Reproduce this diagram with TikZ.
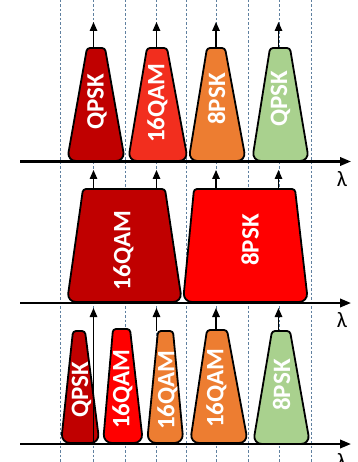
\documentclass[tikz,border=0pt]{standalone}
\usepackage{fontspec}
\newfontfamily\labelfont{Carlito}
\usetikzlibrary{arrows.meta}

\definecolor{darkred}{RGB}{192,0,0}
\definecolor{brightred}{RGB}{255,0,0}
\definecolor{tomato}{RGB}{242,46,30}
\definecolor{orange}{RGB}{237,125,49}
\definecolor{lightgreen}{RGB}{169,209,142}
\definecolor{gridblue}{RGB}{95,128,160}

% pulse: base y, bottom left, bottom right, top left, top right, top y, fill
\newcommand{\pulse}[7]{%
  \draw[pulse, fill=#7] ({(#2+#3)/2},#1) [rounded corners=9pt] -- (#3,#1)
    [rounded corners=3pt] -- (#5,#6) -- (#4,#6)
    [rounded corners=9pt] -- (#2,#1) -- cycle;}

\begin{document}
\begin{tikzpicture}[x=1pt, y=-1pt,
    pulse/.style={line width=1.8pt, line join=round},
    carrier/.style={line width=1.5pt, -{Triangle[length=9pt, width=7.5pt]}},
    axis/.style={line width=2.2pt, -{Triangle[length=11pt, width=8.5pt]}},
    grid/.style={gridblue, line width=0.6pt, dash pattern=on 2.5pt off 2pt},
    modlabel/.style={text=white, rotate=90, font=\labelfont\bfseries\fontsize{25}{25}\selectfont},
    lambda/.style={font=\labelfont\fontsize{22}{22}\selectfont}]
    \useasboundingbox (0,0) rectangle (357,462);

    % Grille (bords et centres des canaux)
    \foreach \x in {60, 93.5, 125.5, 156.5, 186, 216, 248, 279, 311.5}
        \draw[grid] (\x,0) -- (\x,462);

    % Ligne 1 : quatre porteuses
    \pulse{161}{67}{125}{87}{105}{48}{darkred}
    \pulse{161}{128}{188}{147}{167}{48}{tomato}
    \pulse{161}{188.5}{246}{207}{225}{48}{orange}
    \pulse{161}{252}{309}{270}{290}{48}{lightgreen}
    \node[modlabel] (qpskA) at (97,102) {QPSK};
    \node[modlabel] (qamA) at (157.5,103) {16QAM};
    \node[modlabel] (pskA) at (216.5,99) {8PSK};
    \node[modlabel] (qpskB) at (280.5,99) {QPSK};

    % Ligne 2 : deux super-canaux
    \pulse{302}{67}{182}{83}{165}{189}{darkred}
    \pulse{302}{183}{308}{194}{295}{189}{brightred}
    \node[modlabel] (qamB) at (123.5,250.5) {16QAM};
    \node[modlabel] (pskB) at (250,240) {8PSK};

    % Ligne 3 : cinq porteuses
    \pulse{443}{61}{99.5}{73}{85}{331}{darkred}
    \pulse{443}{103}{143}{113}{130}{329}{brightred}
    \pulse{443}{147}{183.5}{158}{173}{331}{orange}
    \pulse{443}{190}{248}{207}{227}{330}{orange}
    \pulse{444}{253}{310}{272}{290}{331}{lightgreen}
    \node[modlabel] (qpskC) at (81.5,390) {QPSK};
    \node[modlabel] (qamC) at (122.5,389) {16QAM};
    \node[modlabel] (qamD) at (167.5,390) {16QAM};
    \node[modlabel] (qamE) at (216.5,388) {16QAM};
    \node[modlabel] (pskC) at (281.5,385) {8PSK};

    % Porteuses optiques (fleches)
    \foreach \x [count=\i] in {93.5, 156.5, 216, 278.5} {
        \coordinate (topA\i) at (\x,48);
        \coordinate (tipA\i) at (\x,22);
        \draw[carrier] (topA\i) -- (tipA\i);
        \coordinate (topB\i) at (\x,189);
        \coordinate (tipB\i) at (\x,170);
        \draw[carrier] (topB\i) -- (tipB\i);
        \coordinate (tipC\i) at (\x,308);
    }
    \coordinate (topC1) at (93.5,443);
    \coordinate (topC2) at (156.5,331);
    \coordinate (topC3) at (216,330);
    \coordinate (topC4) at (278.5,331);
    \foreach \i in {1,...,4}
        \draw[carrier] (topC\i) -- (tipC\i);

    % Axes lambda
    \foreach \y [count=\i] in {161.5, 303, 444} {
        \coordinate (startAx\i) at (20,\y);
        \coordinate (endAx\i) at (351,\y);
        \draw[axis] (startAx\i) -- (endAx\i);
        \node[lambda] (lam\i) at (342,\y+17.5) {λ};
    }
\end{tikzpicture}
\end{document}
